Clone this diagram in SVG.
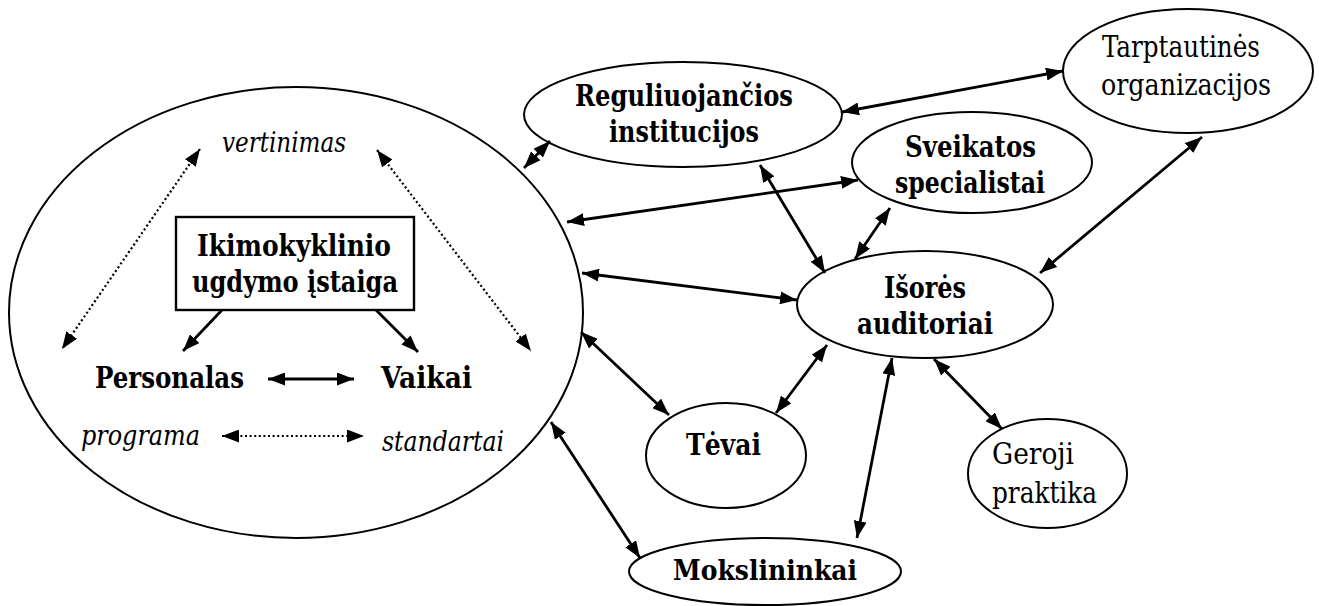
<svg xmlns="http://www.w3.org/2000/svg" width="1319" height="606" viewBox="0 0 1319 606">
<defs>
<marker id="ah" viewBox="0 0 17 13" refX="17" refY="6.5" markerWidth="17" markerHeight="13" markerUnits="userSpaceOnUse" orient="auto-start-reverse">
<path d="M0,0 L17,6.5 L0,13 z" fill="#000"/>
</marker>
</defs>
<style>
.shape{fill:#fff;stroke:#000;stroke-width:2}
.c{stroke:#000;stroke-width:2.8;fill:none;marker-start:url(#ah);marker-end:url(#ah)}
.one{stroke:#000;stroke-width:2.8;fill:none;marker-end:url(#ah)}
.dot{stroke:#000;stroke-width:2.2;fill:none;stroke-dasharray:2 2.6;marker-start:url(#ah);marker-end:url(#ah)}
text{font-family:"DejaVu Serif","Liberation Serif",serif;font-stretch:condensed;fill:#000}
.b{font-weight:bold;font-size:29px}
.r{font-size:30px}
.i{font-style:italic;font-size:27px}
.m{text-anchor:middle}
</style>
<rect width="1319" height="606" fill="#fff"/>

<g id="iug-main">
<ellipse class="shape" cx="296" cy="312.5" rx="287" ry="225.5"/>
<text class="i" x="222" y="152" textLength="124" lengthAdjust="spacingAndGlyphs">vertinimas</text>
<text class="b" x="95" y="388" textLength="149" lengthAdjust="spacingAndGlyphs">Personalas</text>
<text class="b" x="381" y="388" textLength="91" lengthAdjust="spacingAndGlyphs">Vaikai</text>
<text class="i" x="81" y="445" textLength="119" lengthAdjust="spacingAndGlyphs">programa</text>
<text class="i" x="382" y="451" textLength="122" lengthAdjust="spacingAndGlyphs">standartai</text>
</g>
<g id="iug-box">
<rect x="176" y="217" width="238" height="93" fill="#fff" stroke="#000" stroke-width="2.4"/>
<text class="b m" x="294" y="256" textLength="194" lengthAdjust="spacingAndGlyphs">Ikimokyklinio</text>
<text class="b m" x="295" y="292" textLength="206" lengthAdjust="spacingAndGlyphs">ugdymo įstaiga</text>
</g>
<g id="reguliuojancios">
<ellipse class="shape" cx="683" cy="114.5" rx="159" ry="52.5"/>
<text class="b m" x="684" y="106" textLength="218" lengthAdjust="spacingAndGlyphs">Reguliuojančios</text>
<text class="b m" x="684" y="142" textLength="150" lengthAdjust="spacingAndGlyphs">institucijos</text>
</g>
<g id="tarptautines">
<ellipse class="shape" cx="1188" cy="71" rx="125" ry="62"/>
<text class="r" x="1102" y="57" textLength="158" lengthAdjust="spacingAndGlyphs">Tarptautinės</text>
<text class="r" x="1101" y="95" textLength="170" lengthAdjust="spacingAndGlyphs">organizacijos</text>
</g>
<g id="sveikatos">
<ellipse class="shape" cx="972" cy="162.5" rx="120" ry="50.5"/>
<text class="b m" x="970.5" y="157" textLength="131" lengthAdjust="spacingAndGlyphs">Sveikatos</text>
<text class="b m" x="970" y="193" textLength="150" lengthAdjust="spacingAndGlyphs">specialistai</text>
</g>
<g id="isores">
<ellipse class="shape" cx="925" cy="304.5" rx="128" ry="53.5"/>
<text class="b m" x="925" y="298" textLength="82" lengthAdjust="spacingAndGlyphs">Išorės</text>
<text class="b m" x="925" y="334" textLength="136" lengthAdjust="spacingAndGlyphs">auditoriai</text>
</g>
<g id="tevai">
<ellipse class="shape" cx="726" cy="455.5" rx="80" ry="52.5"/>
<text class="b m" x="723.5" y="455" textLength="75" lengthAdjust="spacingAndGlyphs">Tėvai</text>
</g>
<g id="geroji">
<ellipse class="shape" cx="1047.5" cy="473.5" rx="79.5" ry="54.5"/>
<text class="r" x="992" y="464" textLength="82" lengthAdjust="spacingAndGlyphs">Geroji</text>
<text class="r" x="992" y="503" textLength="105" lengthAdjust="spacingAndGlyphs">praktika</text>
</g>
<g id="mokslininkai">
<ellipse class="shape" cx="765" cy="571.5" rx="136" ry="33.5"/>
<text class="b m" x="765" y="580" textLength="184" lengthAdjust="spacingAndGlyphs" style="font-size:28px">Mokslininkai</text>
</g>

<g id="connectors">
<line class="c" x1="524" y1="168" x2="550" y2="141"/>
<line class="c" x1="567" y1="222" x2="858" y2="180"/>
<line class="c" x1="582" y1="273" x2="797" y2="300"/>
<line class="c" x1="760" y1="165" x2="825" y2="273"/>
<line class="c" x1="890" y1="208" x2="855" y2="259"/>
<line class="c" x1="842" y1="112" x2="1063" y2="71"/>
<line class="c" x1="1202" y1="137" x2="1040" y2="273"/>
<line class="c" x1="581" y1="332" x2="669" y2="415"/>
<line class="c" x1="776" y1="413" x2="827" y2="345"/>
<line class="c" x1="857" y1="538" x2="892" y2="358"/>
<line class="c" x1="934" y1="359" x2="1002" y2="429"/>
<line class="c" x1="551" y1="422" x2="640" y2="558"/>
<line class="one" x1="222" y1="310" x2="183" y2="351"/>
<line class="one" x1="376" y1="310" x2="418" y2="352"/>
<line class="c" x1="268" y1="379" x2="354" y2="379"/>
<line class="dot" x1="200" y1="149" x2="62" y2="349"/>
<line class="dot" x1="377" y1="150" x2="531" y2="351"/>
<line class="dot" x1="222" y1="436" x2="364" y2="436"/>
</g>
</svg>
